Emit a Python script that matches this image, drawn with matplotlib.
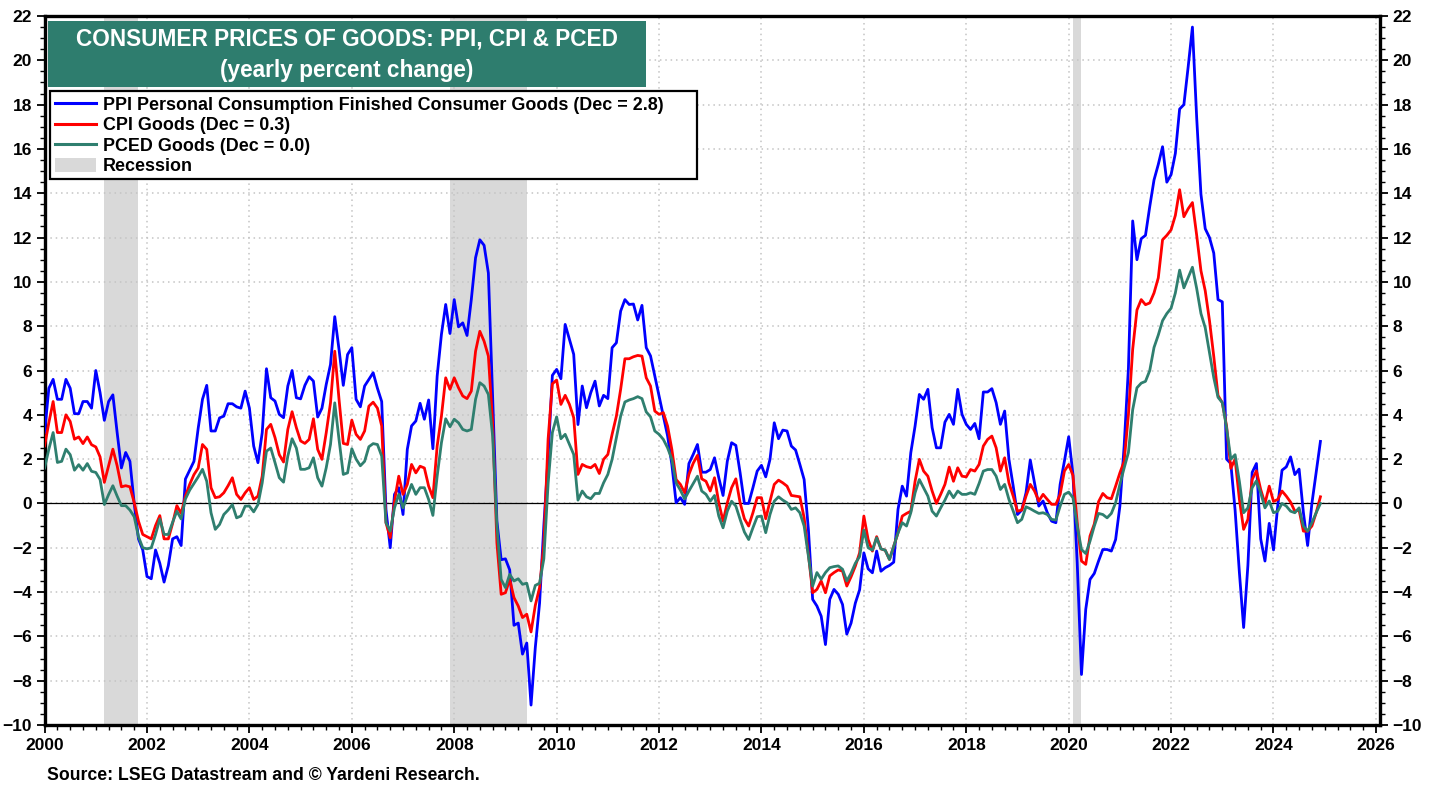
import numpy as np
import matplotlib
matplotlib.use("Agg")
import matplotlib.pyplot as plt
from matplotlib.lines import Line2D
from matplotlib.patches import Patch, Rectangle
from matplotlib.ticker import MultipleLocator

plt.rcParams['font.family'] = ['Liberation Sans', 'DejaVu Sans']
plt.rcParams['font.weight'] = 'bold'

# ---------------- data (monthly, Jan 2000 .. Dec 2024, yearly % change) ----------------
start_year = 2000

ppi_goods = [
    3.2, 5.2, 5.6, 4.7, 4.7, 5.6, 5.2, 4.05, 4.05, 4.6, 4.6, 4.3,          # 2000
    6.0, 5.0, 3.75, 4.6, 4.9, 3.2, 1.6, 2.3, 1.9, 0.0, -1.6, -2.1,         # 2001
    -3.3, -3.4, -2.1, -2.7, -3.55, -2.8, -1.6, -1.5, -1.9, 1.1, 1.5, 1.9,  # 2002
    3.4, 4.7, 5.33, 3.27, 3.27, 3.86, 3.94, 4.5, 4.5, 4.36, 4.3, 5.07,     # 2003
    4.3, 2.59, 1.84, 3.19, 6.08, 4.77, 4.62, 4.02, 3.87, 5.3, 6.0, 4.77,   # 2004
    4.72, 5.33, 5.72, 5.52, 3.9, 4.3, 5.37, 6.27, 8.43, 6.95, 5.33, 6.72,  # 2005
    7.03, 4.7, 4.36, 5.3, 5.6, 5.9, 5.2, 4.6, -0.27, -2.0, 0.41, 0.71,     # 2006
    -0.5, 2.44, 3.5, 3.72, 4.52, 3.8, 4.67, 2.47, 5.75, 7.63, 8.98, 7.67,  # 2007
    9.2, 7.97, 8.15, 7.58, 9.2, 11.09, 11.9, 11.65, 10.4, 4.85, -0.8, -2.54,  # 2008
    -2.5, -3.0, -5.5, -5.4, -6.8, -6.3, -9.1, -6.5, -4.5, -1.0, 2.1, 5.78,    # 2009
    6.05, 5.63, 8.08, 7.4, 6.73, 3.56, 5.3, 4.32, 5.0, 5.52, 4.4, 4.88,    # 2010
    4.73, 7.03, 7.25, 8.68, 9.2, 8.98, 9.0, 8.28, 8.94, 7.03, 6.66, 5.75,  # 2011
    4.85, 3.95, 3.05, 1.76, 0.03, 0.26, -0.04, 1.8, 2.21, 2.66, 1.41, 1.41,  # 2012
    1.53, 2.06, 1.16, 0.36, 1.91, 2.74, 2.62, 1.38, 0.0, 0.0, 0.71, 1.46,  # 2013
    1.72, 1.2, 1.99, 3.64, 2.92, 3.31, 3.27, 2.59, 2.41, 1.76, 1.08, -1.17,  # 2014
    -4.33, -4.63, -5.09, -6.37, -4.33, -3.88, -4.1, -4.56, -5.9, -5.4, -4.5, -3.9,  # 2015
    -2.23, -2.95, -3.13, -2.15, -3.06, -2.9, -2.8, -2.65, -0.27, 0.78, 0.33, 2.29,  # 2016
    3.49, 4.92, 4.7, 5.15, 3.42, 2.51, 2.51, 3.67, 4.02, 3.57, 5.15, 4.02,  # 2017
    3.57, 3.34, 3.61, 2.92, 5.03, 5.03, 5.18, 4.55, 3.57, 4.17, 1.99, 0.78,  # 2018
    -0.5, -0.3, 0.48, 1.96, 0.93, -0.12, 0.11, -0.42, -0.8, -0.87, 0.86, 1.91,  # 2019
    3.01, 1.31, -2.68, -7.72, -4.78, -3.43, -3.16, -2.6, -2.08, -2.08, -2.15, -1.63,  # 2020
    -0.12, 2.6, 6.1, 12.75, 11.0, 11.95, 12.1, 13.4, 14.6, 15.3, 16.1, 14.5,  # 2021
    14.84, 15.8, 17.8, 18.0, 19.7, 21.5, 17.4, 13.95, 12.4, 12.0, 11.3, 9.2,  # 2022
    9.1, 2.0, 1.8, -0.3, -3.1, -5.6, -2.8, 1.4, 1.8, -1.6, -2.6, -0.9,     # 2023
    -2.1, -0.1, 1.5, 1.65, 2.1, 1.3, 1.55, -0.4, -1.9, 0.0, 1.4, 2.8,      # 2024
]

cpi_goods = [
    2.6, 3.65, 4.6, 3.2, 3.2, 4.0, 3.7, 2.9, 3.0, 2.7, 3.0, 2.65,
    2.55, 2.1, 0.95, 1.7, 2.45, 1.7, 0.75, 0.8, 0.75, 0.04, -0.8, -1.4,
    -1.5, -1.6, -1.0, -0.55, -1.6, -1.6, -0.9, -0.1, -0.45, 0.33, 0.86, 1.3,
    1.6, 2.66, 2.44, 0.71, 0.26, 0.3, 0.48, 0.8, 1.16, 0.41, 0.18, 0.48,
    0.71, 0.18, 0.33, 1.23, 3.34, 3.57, 2.97, 2.2, 1.87, 3.34, 4.14, 3.42,
    2.82, 2.71, 2.89, 3.82, 2.44, 1.99, 3.19, 4.54, 6.87, 4.7, 2.71, 2.66,
    3.76, 3.12, 2.89, 3.27, 4.39, 4.57, 4.3, 3.5, -0.87, -1.55, 0.1, 1.23,
    0.41, 0.86, 1.76, 1.38, 1.68, 1.6, 0.78, 0.26, 2.59, 3.94, 5.67, 5.15,
    5.67, 5.22, 4.85, 4.73, 5.07, 6.87, 7.77, 7.32, 6.65, 3.64, -1.78, -4.1,
    -4.03, -3.43, -4.25, -4.63, -5.15, -5.0, -5.8, -4.6, -3.8, -1.8, 2.9, 5.4,
    5.57, 4.47, 4.88, 4.47, 3.87, 1.31, 1.76, 1.66, 1.61, 1.76, 1.35, 1.99,
    2.21, 3.12, 3.94, 5.15, 6.53, 6.53, 6.62, 6.68, 6.65, 5.67, 5.3, 4.17,
    4.02, 4.1, 3.49, 2.44, 1.08, 0.86, 0.48, 1.31, 1.81, 2.17, 1.11, 1.0,
    0.56, 1.16, 0.03, -0.8, 0.03, 0.71, 1.11, 0.03, -0.69, -1.02, -0.42, 0.26,
    0.26, -0.69, 0.1, 0.86, 1.05, 0.93, 0.78, 0.36, 0.33, 0.3, -0.65, -2.3,
    -4.03, -3.88, -3.5, -4.03, -3.27, -3.12, -3.0, -3.05, -3.73, -3.31, -2.83, -2.23,
    -0.57, -1.63, -2.15, -1.5, -2.05, -2.11, -2.53, -1.93, -1.33, -0.57, -0.45, -0.35,
    1.0, 1.99, 1.46, 1.23, 0.56, 0.0, 0.41, 0.86, 1.64, 1.0, 1.61, 1.23,
    1.2, 1.53, 1.46, 1.76, 2.59, 2.89, 3.04, 2.51, 1.46, 2.06, 0.93, 0.33,
    -0.35, -0.3, 0.33, 0.86, 0.56, 0.11, 0.41, 0.18, -0.04, -0.04, 0.41, 1.46,
    1.76, 1.26, -0.87, -2.6, -2.75, -1.47, -0.93, 0.08, 0.45, 0.26, 0.21, 0.78,
    1.38, 1.9, 4.0, 6.96, 8.73, 9.2, 8.97, 9.05, 9.5, 10.18, 11.9, 12.1,
    12.35, 13.0, 14.16, 12.94, 13.3, 13.58, 12.1, 10.5, 9.6, 8.25, 6.64, 4.87,
    4.55, 3.5, 1.58, 2.0, 0.2, -1.17, -0.72, 1.08, 1.47, 0.63, 0.0, 0.78,
    0.09, 0.18, 0.56, 0.33, 0.06, -0.35, -0.3, -1.25, -1.25, -1.02, -0.42, 0.3,
]

pced_goods = [
    1.6, 2.45, 3.2, 1.85, 1.9, 2.45, 2.2, 1.5, 1.75, 1.5, 1.8, 1.45,
    1.4, 1.08, -0.05, 0.4, 0.8, 0.33, -0.1, -0.1, -0.3, -0.6, -1.5, -2.0,
    -2.05, -2.0, -1.4, -0.7, -1.4, -1.4, -0.85, -0.35, -0.7, 0.2, 0.6, 0.9,
    1.2, 1.54, 1.0, -0.42, -1.17, -0.95, -0.5, -0.3, -0.05, -0.65, -0.57, -0.12,
    -0.12, -0.38, -0.05, 0.93, 2.36, 2.5, 1.84, 1.16, 0.96, 2.14, 2.92, 2.5,
    1.54, 1.54, 1.61, 2.06, 1.16, 0.78, 1.61, 2.66, 4.54, 2.89, 1.31, 1.38,
    2.47, 2.0, 1.7, 1.9, 2.56, 2.7, 2.66, 2.14, -0.87, -1.25, -0.2, 0.41,
    -0.2, 0.33, 0.86, 0.41, 0.71, 0.71, 0.18, -0.54, 1.23, 2.74, 3.82, 3.46,
    3.8, 3.64, 3.34, 3.27, 3.34, 4.7, 5.45, 5.3, 4.92, 3.04, -1.0, -3.43,
    -3.8, -3.2, -3.5, -3.4, -3.65, -3.6, -4.4, -3.7, -3.6, -2.5, 0.9, 3.2,
    3.91, 2.92, 3.12, 2.66, 2.21, 0.15, 0.56, 0.3, 0.21, 0.45, 0.45, 0.93,
    1.31, 1.99, 2.96, 3.94, 4.58, 4.67, 4.73, 4.82, 4.73, 4.13, 3.91, 3.27,
    3.12, 2.89, 2.51, 1.99, 0.93, 0.6, 0.2, 0.56, 0.9, 1.23, 0.56, 0.41,
    0.1, 0.36, -0.57, -1.1, -0.35, 0.1, -0.12, -0.72, -1.29, -1.63, -1.1, -0.6,
    -0.57, -1.32, -0.5, 0.1, 0.3, 0.15, 0.03, -0.27, -0.2, -0.42, -1.02, -2.38,
    -3.73, -3.12, -3.42, -3.12, -2.9, -2.85, -2.82, -2.97, -3.5, -3.15, -2.7, -2.4,
    -1.2, -2.0, -2.11, -1.55, -2.05, -2.11, -2.53, -1.93, -1.33, -0.87, -1.02, -0.42,
    0.48, 1.08, 0.71, 0.33, -0.35, -0.57, -0.2, 0.15, 0.56, 0.26, 0.56, 0.41,
    0.41, 0.48, 0.41, 0.9, 1.46, 1.53, 1.53, 1.23, 0.63, 0.86, 0.18, -0.35,
    -0.87, -0.72, -0.15, -0.24, -0.35, -0.45, -0.42, -0.5, -0.72, -0.75, -0.12, 0.41,
    0.51, 0.26, -1.02, -2.08, -2.26, -1.7, -1.02, -0.45, -0.5, -0.65, -0.45, 0.03,
    0.86, 1.6, 2.3, 4.23, 5.22, 5.43, 5.51, 6.0, 7.04, 7.6, 8.25, 8.57,
    8.81, 9.5, 10.53, 9.73, 10.2, 10.66, 9.7, 8.57, 7.93, 6.8, 5.68, 4.79,
    4.55, 3.42, 2.0, 2.2, 1.0, -0.42, -0.2, 0.71, 1.02, 0.48, -0.2, 0.11,
    -0.42, -0.35, 0.0, -0.12, -0.35, -0.42, -0.2, -1.02, -1.25, -0.87, -0.42, 0.0,
]

# NBER recessions (start, end) as fractional years
recessions = [(2001 + 2 / 12, 2001 + 10 / 12),
              (2007 + 11 / 12, 2009 + 5 / 12),
              (2020 + 1 / 12, 2020 + 3 / 12)]

title_line1 = "CONSUMER PRICES OF GOODS: PPI, CPI & PCED"
title_line2 = "(yearly percent change)"
source_text = "Source: LSEG Datastream and \u00a9 Yardeni Research."

x_ticks = list(range(2000, 2027, 2))
y_ticks = list(range(-10, 23, 2))

# ---------------- styling ----------------
C_BLUE = "#0000ff"
C_RED = "#ff0000"
C_GREEN = "#2f7f6f"
C_TITLE = "#2e7d6e"
C_REC = "#d9d9d9"

W, H = 1438, 789
fig = plt.figure(figsize=(W / 100, H / 100), dpi=100)
ax = fig.add_axes([44.6 / W, 1 - 725 / H, (1380 - 44.6) / W, (725 - 16) / H])

x = start_year + np.arange(len(ppi_goods)) / 12.0

for a, b in recessions:
    ax.axvspan(a, b, color=C_REC, lw=0, zorder=0.5)

ax.axhline(0, color="black", lw=0.9, zorder=1.5)

ax.plot(x, ppi_goods, color=C_BLUE, lw=2.0, zorder=3, solid_joinstyle="round")
ax.plot(x, cpi_goods, color=C_RED, lw=2.0, zorder=3.1, solid_joinstyle="round")
ax.plot(x, pced_goods, color=C_GREEN, lw=2.0, zorder=3.2, solid_joinstyle="round")

ax.set_xlim(2000, 2026.08)
ax.set_ylim(-10, 22)
ax.set_xticks(x_ticks)
ax.set_yticks(y_ticks)
ax.xaxis.set_minor_locator(MultipleLocator(0.25))
ax.yaxis.set_minor_locator(MultipleLocator(0.5))
ax.tick_params(which="major", direction="out", length=6, width=1.3,
               labelsize=12.5, right=True, labelright=True, top=False, pad=3)
ax.tick_params(which="minor", direction="out", length=3.5, width=1.0,
               right=True, top=False)
for lab in ax.get_xticklabels() + ax.get_yticklabels():
    lab.set_fontweight("bold")

ax.grid(which="major", color="#c4c4c4", linestyle=(0, (1, 2.5)), linewidth=1.1)
ax.set_axisbelow(True)
for s in ax.spines.values():
    s.set_linewidth(2.4)

# title box
ax.add_patch(Rectangle((48 / W, 1 - 87 / H), (646 - 48) / W, (87 - 21) / H,
                       transform=fig.transFigure, facecolor=C_TITLE,
                       edgecolor="none", zorder=6, clip_on=False))
fig.text(347 / W, 1 - 39 / H, title_line1, ha="center", va="center",
         color="white", fontsize=16.3, fontweight="bold", zorder=7)
fig.text(347 / W, 1 - 70 / H, title_line2, ha="center", va="center",
         color="white", fontsize=16.3, fontweight="bold", zorder=7)

# legend frame (drawn separately so its width matches the original)
ax.add_patch(Rectangle((50 / W, 1 - 179 / H), (697 - 50) / W, (179 - 91) / H,
                       transform=fig.transFigure, facecolor="white",
                       edgecolor="black", linewidth=1.6, zorder=7.5,
                       clip_on=False))
handles = [Line2D([], [], color=C_BLUE, lw=2.2),
           Line2D([], [], color=C_RED, lw=2.2),
           Line2D([], [], color=C_GREEN, lw=2.2),
           Patch(facecolor=C_REC, edgecolor="none")]
labels = [f"PPI Personal Consumption Finished Consumer Goods (Dec = {ppi_goods[-1]:.1f})",
          f"CPI Goods (Dec = {cpi_goods[-1]:.1f})",
          f"PCED Goods (Dec = {pced_goods[-1]:.1f})",
          "Recession"]
leg = ax.legend(handles, labels, loc="upper left",
                bbox_to_anchor=(50 / W, 1 - 91 / H), bbox_transform=fig.transFigure,
                frameon=False, prop={"weight": "bold", "size": 12.9},
                handlelength=2.25, handleheight=0.85, handletextpad=0.4,
                borderpad=0.3, labelspacing=0.18, borderaxespad=0)
leg.set_zorder(8)

fig.text(47 / W, 1 - 775 / H, source_text, ha="left", va="center",
         fontsize=12.7, fontweight="bold")

fig.savefig("out.png", dpi=100)
